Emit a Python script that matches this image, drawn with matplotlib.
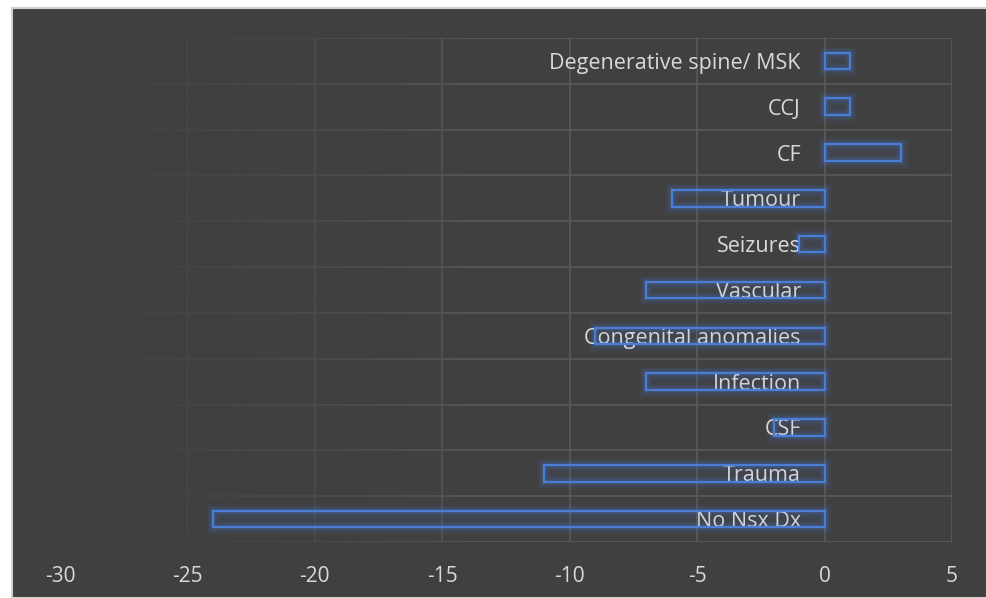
import matplotlib
matplotlib.use("Agg")
import matplotlib.pyplot as plt
import numpy as np
from matplotlib.patches import Rectangle

categories = ["No Nsx Dx", "Trauma", "CSF", "Infection", "Congenital anomalies",
              "Vascular", "Seizures", "Tumour", "CF", "CCJ", "Degenerative spine/ MSK"]
values = [-24, -11, -2, -7, -9, -7, -1, -6, 3, 1, 1]
xticks = [-30, -25, -20, -15, -10, -5, 0, 5]

BG = "#404040"
GRID = "#5a5a5a"
TXT = "#d9d9d9"
BAR = "#4472C4"

plt.rcParams['font.family'] = ['Open Sans', 'DejaVu Sans']

W, H = 987, 598
fig = plt.figure(figsize=(W / 100, H / 100), dpi=100, facecolor="white")
fig.patches.append(Rectangle((12 / W, 0), 1 - 12 / W, 1 - 8 / H, transform=fig.transFigure,
                             facecolor=BG, edgecolor="#d0d0d0", linewidth=1.5, zorder=-10))

left, right, top, bottom = 60, 952, 38, 542
ax = fig.add_axes([left / W, 1 - bottom / H, (right - left) / W, (bottom - top) / H])
ax.set_facecolor("none")
ax.set_zorder(5)

n = len(categories)
y = np.arange(n)

# grid (manual, so it can fade to the left)
ax.vlines(xticks, -0.5, n - 0.5, colors=GRID, linewidth=1.2, zorder=0.5)
ax.hlines(np.arange(n + 1) - 0.5, -30, 5, colors=GRID, linewidth=1.2, zorder=0.5)

# fading overlay
grad = np.zeros((1, 400, 4))
grad[..., :3] = matplotlib.colors.to_rgb(BG)
xs = np.linspace(0, 1, 400)
alpha = np.clip(1 - xs / 0.45, 0, 1) ** 0.6
grad[0, :, 3] = np.clip(alpha, 0, 1)
ax.imshow(grad, extent=[0, 1, 0, 1], transform=ax.transAxes, aspect="auto",
          zorder=1, interpolation="bilinear")
ax.set_xlim(-30, 5)
ax.set_ylim(-0.5, n - 0.5)

h = 0.36
# glow
for lw, a in [(11, 0.05), (8, 0.08), (6, 0.1), (4, 0.15)]:
    ax.barh(y, values, height=h, color="none", edgecolor=BAR, linewidth=lw, alpha=a, zorder=1.5)
ax.barh(y, values, height=h, color=(0.27, 0.45, 0.77, 0.06), edgecolor="#4a7ed6", linewidth=1.6, zorder=2)

# y axis labels at zero
ax.spines['left'].set_position(('data', 0))
for s in ax.spines.values():
    s.set_visible(False)
ax.set_yticks(y)
ax.set_yticklabels(categories, color=TXT, fontsize=15.5)
ax.tick_params(axis='y', length=0, pad=17)
ax.set_xticks(xticks)
ax.set_xticklabels([str(t) for t in xticks], color=TXT, fontsize=15)
ax.tick_params(axis='x', length=0, pad=17)

fig.savefig("out.png", dpi=100, facecolor="white")
